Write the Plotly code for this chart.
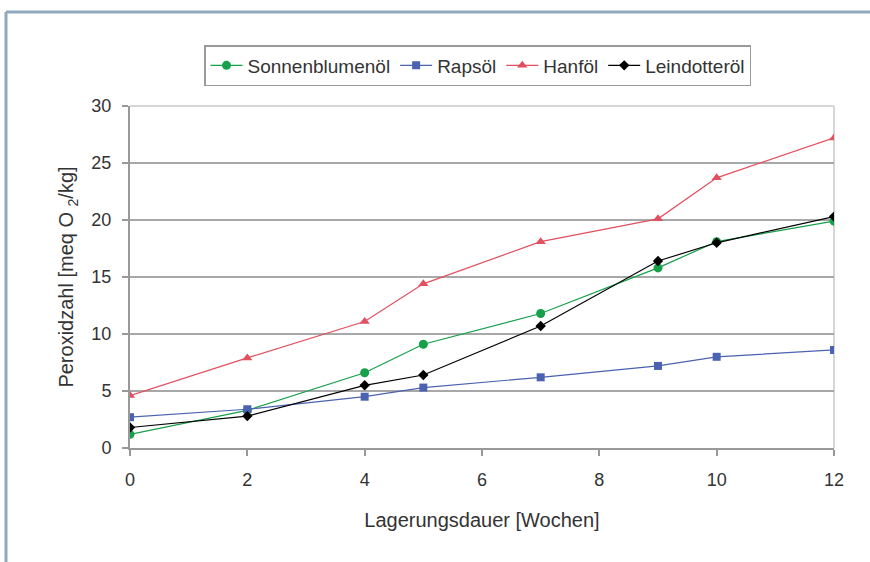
import plotly.graph_objects as go

weeks = [0, 2, 4, 5, 7, 9, 10, 12]
sonnenblumenoel = [1.2, 3.3, 6.6, 9.1, 11.8, 15.8, 18.1, 19.9]
rapsoel = [2.7, 3.4, 4.5, 5.3, 6.2, 7.2, 8.0, 8.6]
hanfoel = [4.6, 7.9, 11.1, 14.4, 18.1, 20.1, 23.7, 27.2]
leindotteroel = [1.8, 2.8, 5.5, 6.4, 10.7, 16.4, 18.0, 20.3]

series = [
    ("Sonnenblumenöl", sonnenblumenoel, "#16a04a", "circle", 9),
    ("Rapsöl", rapsoel, "#4a62b0", "square", 8),
    ("Hanföl", hanfoel, "#e0505e", "triangle-up", 9),
    ("Leindotteröl", leindotteroel, "#000000", "diamond", 8),
]

W, H = 870, 562
L, R, T, B = 130, 36, 106, 114
pw, ph = W - L - R, H - T - B

def px(x):
    return (x - L) / pw

def py(y):
    return (H - B - y) / ph

FONT = "Liberation Sans, Arial, sans-serif"

fig = go.Figure()
for name, vals, color, sym, size in series:
    fig.add_trace(go.Scatter(
        x=weeks, y=vals, name=name, mode="lines+markers",
        line=dict(color=color, width=1.2),
        marker=dict(symbol=sym, size=size, color=color),
    ))

fig.update_layout(
    width=W, height=H,
    margin=dict(l=L, r=R, t=T, b=B),
    paper_bgcolor="white", plot_bgcolor="white",
    font=dict(family=FONT, size=18, color="#333333"),
    showlegend=True,
    legend=dict(
        orientation="h", x=px(204), y=py(45), xanchor="left", yanchor="top",
        bordercolor="#9a9a9a", borderwidth=1.5, bgcolor="white",
        font=dict(size=19, color="#333333"),
        itemwidth=32, tracegroupgap=0,
    ),
    xaxis=dict(
        range=[0, 12], dtick=2, tick0=0, showgrid=False, zeroline=False,
        showline=True, linecolor="#999999", linewidth=2,
        ticks="outside", ticklen=6, tickcolor="#999999", tickwidth=1.5,
        ticklabelstandoff=8,
        title=dict(text="Lagerungsdauer [Wochen]", font=dict(size=20), standoff=24),
    ),
    yaxis=dict(
        range=[0, 30], dtick=5, tick0=0, showgrid=True, gridcolor="#a8a8a8", gridwidth=1.6,
        zeroline=False, showline=True, linecolor="#999999", linewidth=2,
        ticks="outside", ticklen=6, tickcolor="#999999", tickwidth=1.5,
        ticklabelstandoff=7,
        title=dict(text="Peroxidzahl [meq O <sub>2</sub>/kg]", font=dict(size=20), standoff=12),
    ),
    shapes=[
        dict(type="line", xref="paper", yref="paper", x0=0, x1=1, y0=1, y1=1,
             line=dict(color="#c8c8c8", width=1.5), layer="below"),
        dict(type="line", xref="paper", yref="paper", x0=1, x1=1, y0=0, y1=1,
             line=dict(color="#c8c8c8", width=1.5), layer="below"),
        dict(type="line", xref="paper", yref="paper", x0=px(6), x1=px(W), y0=py(12), y1=py(12),
             line=dict(color="#8fa9bf", width=3)),
        dict(type="line", xref="paper", yref="paper", x0=px(6), x1=px(6), y0=py(12), y1=py(H),
             line=dict(color="#8fa9bf", width=3)),
    ],
)

fig.write_html(
    "out.html",
    config={"displayModeBar": False},
    post_script="document.body.style.margin='0';document.body.style.overflow='hidden';",
)
